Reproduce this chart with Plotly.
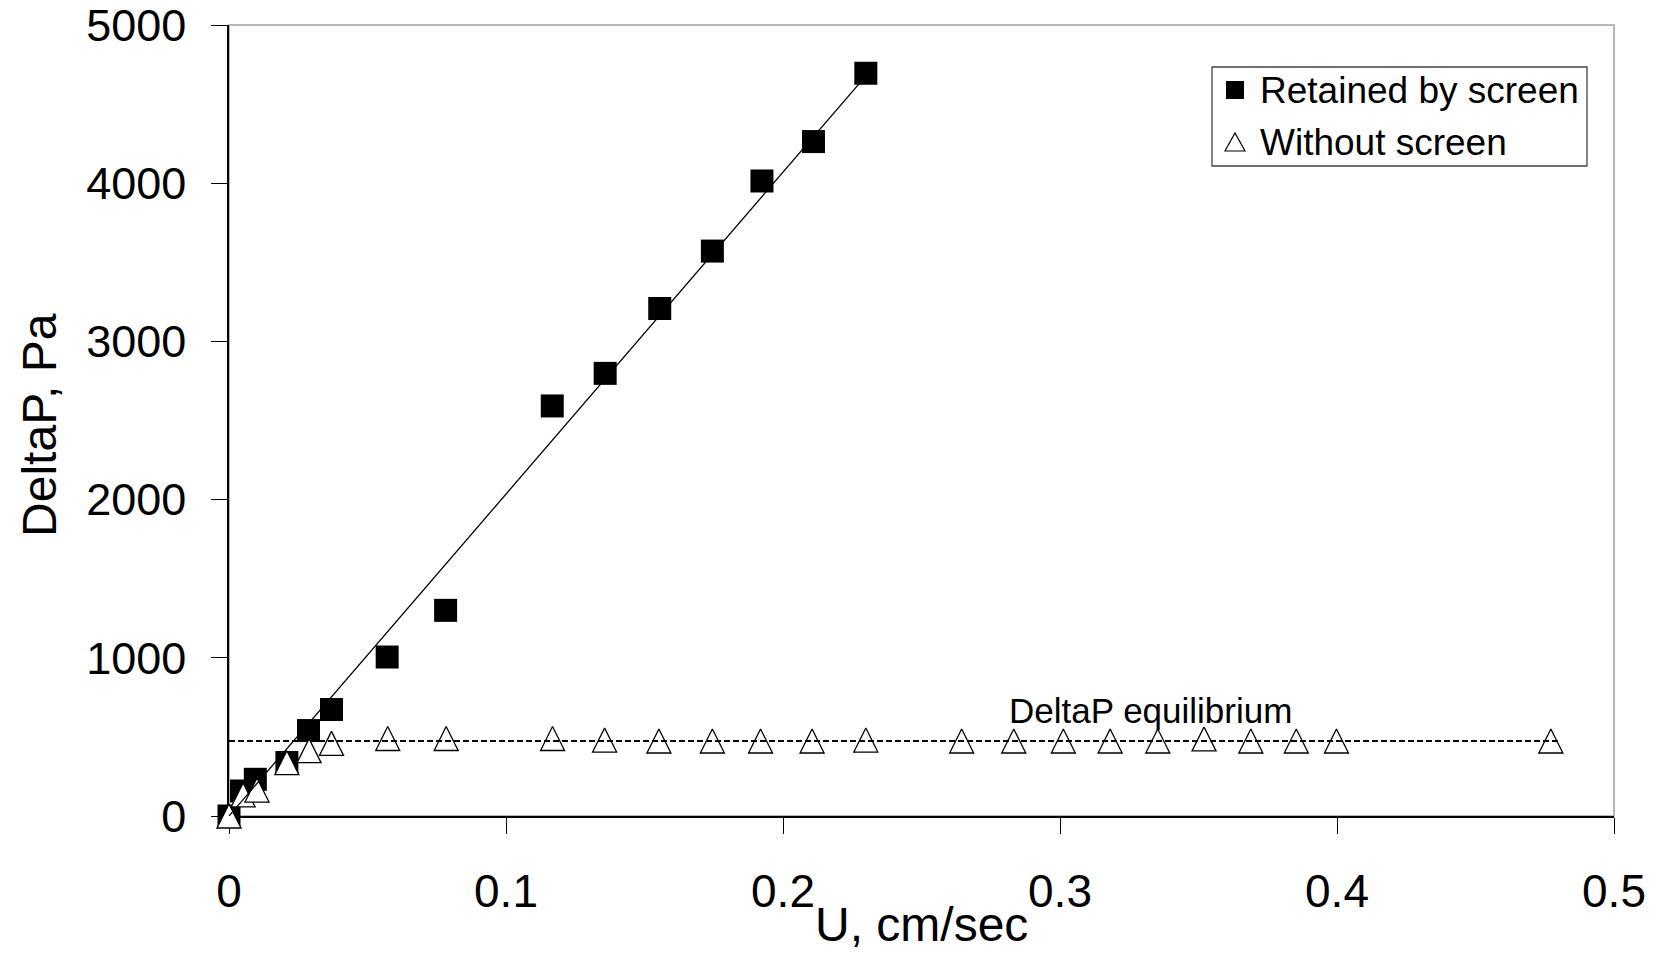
import plotly.graph_objects as go

# Pressure drop across the bed, filter cake retained by the screen
retained_u = [0.0, 0.0045, 0.0095, 0.0209, 0.0287, 0.037, 0.0571, 0.0782, 0.1167,
              0.1358, 0.1555, 0.1745, 0.1924, 0.2110, 0.2299]
retained_dp = [0, 158, 232, 338, 540, 673, 1005, 1300, 2592, 2798, 3208, 3571, 4014, 4263, 4695]

# Pressure drop without the screen
free_u = [0.0, 0.0051, 0.0101, 0.0209, 0.0289, 0.037, 0.0573, 0.0784, 0.1168, 0.1356,
          0.1552, 0.1745, 0.1919, 0.2105, 0.2299, 0.2645, 0.2833, 0.3012, 0.3181,
          0.3353, 0.3520, 0.3689, 0.3853, 0.3998, 0.4772]
free_dp = [0, 133, 164, 337, 413, 459, 490, 490, 490, 480, 474, 474, 474, 474, 480,
           474, 474, 474, 474, 474, 487, 474, 474, 474, 474]

# Linear trend through the retained-cake data
trend_u = [0.0, 0.23]
trend_dp = [0, 4680]

# Equilibrium pressure drop
equilibrium_u = [0.0, 0.48]
equilibrium_dp = [474, 474]

x_ticks = [0, 0.1, 0.2, 0.3, 0.4, 0.5]
x_tick_text = ["0", "0.1", "0.2", "0.3", "0.4", "0.5"]
y_ticks = [0, 1000, 2000, 3000, 4000, 5000]
y_tick_text = ["0", "1000", "2000", "3000", "4000", "5000"]

series_names = ["Retained by screen", "Without screen"]

FONT = "Liberation Sans, Arial, sans-serif"
SQ = 23
TRI = 24

# plot area in pixels (used to place the key box in paper units)
L, R, T, B = 229, 53, 25, 142
W, H = 1667, 958
PW, PH = W - L - R, H - T - B


def px(xpix):
    return (xpix - L) / PW


def py(ypix):
    return (H - B - ypix) / PH


fig = go.Figure()

fig.add_trace(go.Scatter(
    x=retained_u, y=retained_dp, mode="markers", name=series_names[0],
    showlegend=False,
    marker=dict(symbol="square", size=SQ, color="black", line=dict(width=0)),
    cliponaxis=False,
))
fig.add_trace(go.Scatter(
    x=free_u, y=free_dp, mode="markers", name=series_names[1], showlegend=False,
    marker=dict(symbol="arrow-down", angle=180, standoff=TRI / 2, size=TRI,
                color="white", line=dict(width=1.3, color="black")),
    cliponaxis=False,
))
fig.add_trace(go.Scatter(
    x=trend_u, y=trend_dp, mode="lines", showlegend=False,
    line=dict(color="black", width=1.3), cliponaxis=False,
))
fig.add_trace(go.Scatter(
    x=equilibrium_u, y=equilibrium_dp, mode="lines", showlegend=False,
    line=dict(color="black", width=2, dash="6px,3px"), cliponaxis=False,
))

# key box: frame, symbols and labels
key_shapes = [
    dict(type="rect", xref="paper", yref="paper",
         x0=px(1212), x1=px(1587), y0=py(166), y1=py(67),
         line=dict(color="#444", width=1.3), fillcolor="white", layer="above"),
    dict(type="rect", xref="paper", yref="paper",
         x0=px(1226), x1=px(1244), y0=py(99), y1=py(81),
         line=dict(width=0), fillcolor="black", layer="above"),
    dict(type="path", xref="paper", yref="paper",
         path="M {:.5f},{:.5f} L {:.5f},{:.5f} L {:.5f},{:.5f} Z".format(
             px(1225), py(151), px(1245), py(151), px(1235), py(133)),
         line=dict(color="black", width=1.2), fillcolor="white", layer="above"),
]
key_labels = [
    dict(x=px(1258), y=py(90), xref="paper", yref="paper", text=series_names[0],
         showarrow=False, font=dict(size=37, family=FONT),
         xanchor="left", yanchor="middle"),
    dict(x=px(1258), y=py(142), xref="paper", yref="paper", text=series_names[1],
         showarrow=False, font=dict(size=37, family=FONT),
         xanchor="left", yanchor="middle"),
]

# secondary axes carry the short inside ticks
fig.update_layout(
    width=W, height=H,
    margin=dict(l=L, r=R, t=T, b=B, pad=0),
    paper_bgcolor="white", plot_bgcolor="white",
    font=dict(family=FONT, color="black"),
    showlegend=False,
    xaxis=dict(
        range=[0, 0.5], tickvals=x_ticks, ticktext=x_tick_text,
        ticks="outside", ticklen=16, tickwidth=1.3, tickcolor="black",
        showline=True, linecolor="black", linewidth=1.5,
        showgrid=False, zeroline=False, layer="below traces",
        tickfont=dict(size=46, family=FONT), ticklabelstandoff=18,
        ticklabeloverflow="allow", automargin=False,
    ),
    xaxis2=dict(
        overlaying="x", matches="x", range=[0, 0.5], side="bottom",
        dtick=0.02, tick0=0, ticks="inside", ticklen=11, tickwidth=1.3,
        tickcolor="black", showticklabels=False, showgrid=False,
        zeroline=False, showline=False, layer="below traces", automargin=False,
    ),
    yaxis=dict(
        range=[0, 5000], tickvals=y_ticks, ticktext=y_tick_text,
        ticks="outside", ticklen=16, tickwidth=1.3, tickcolor="black",
        showline=True, linecolor="black", linewidth=1.5,
        showgrid=False, zeroline=False, layer="below traces",
        tickfont=dict(size=45, family=FONT), ticklabelstandoff=16,
        ticklabeloverflow="allow", automargin=False,
    ),
    yaxis2=dict(
        overlaying="y", matches="y", range=[0, 5000], side="left",
        dtick=200, tick0=0, ticks="inside", ticklen=11, tickwidth=1.3,
        tickcolor="black", showticklabels=False, showgrid=False,
        zeroline=False, showline=False, layer="below traces", automargin=False,
    ),
    shapes=[dict(
        type="rect", xref="paper", yref="paper", x0=0, x1=1, y0=0, y1=1,
        line=dict(color="#a0a0a0", width=1.5), layer="below",
    )] + key_shapes,
    annotations=[
        dict(x=0.3326, y=670, xref="x", yref="y", text="DeltaP equilibrium",
             showarrow=False, font=dict(size=35, family=FONT),
             xanchor="center", yanchor="middle"),
        dict(x=0.5, y=-0.1377, xref="paper", yref="paper", text="U, cm/sec",
             showarrow=False, font=dict(size=48, family=FONT),
             xanchor="center", yanchor="middle"),
        dict(x=-0.1367, y=0.494, xref="paper", yref="paper", text="DeltaP, Pa",
             textangle=-90, showarrow=False, font=dict(size=48, family=FONT),
             xanchor="center", yanchor="middle"),
    ] + key_labels,
)

fig.write_html("out.html")
